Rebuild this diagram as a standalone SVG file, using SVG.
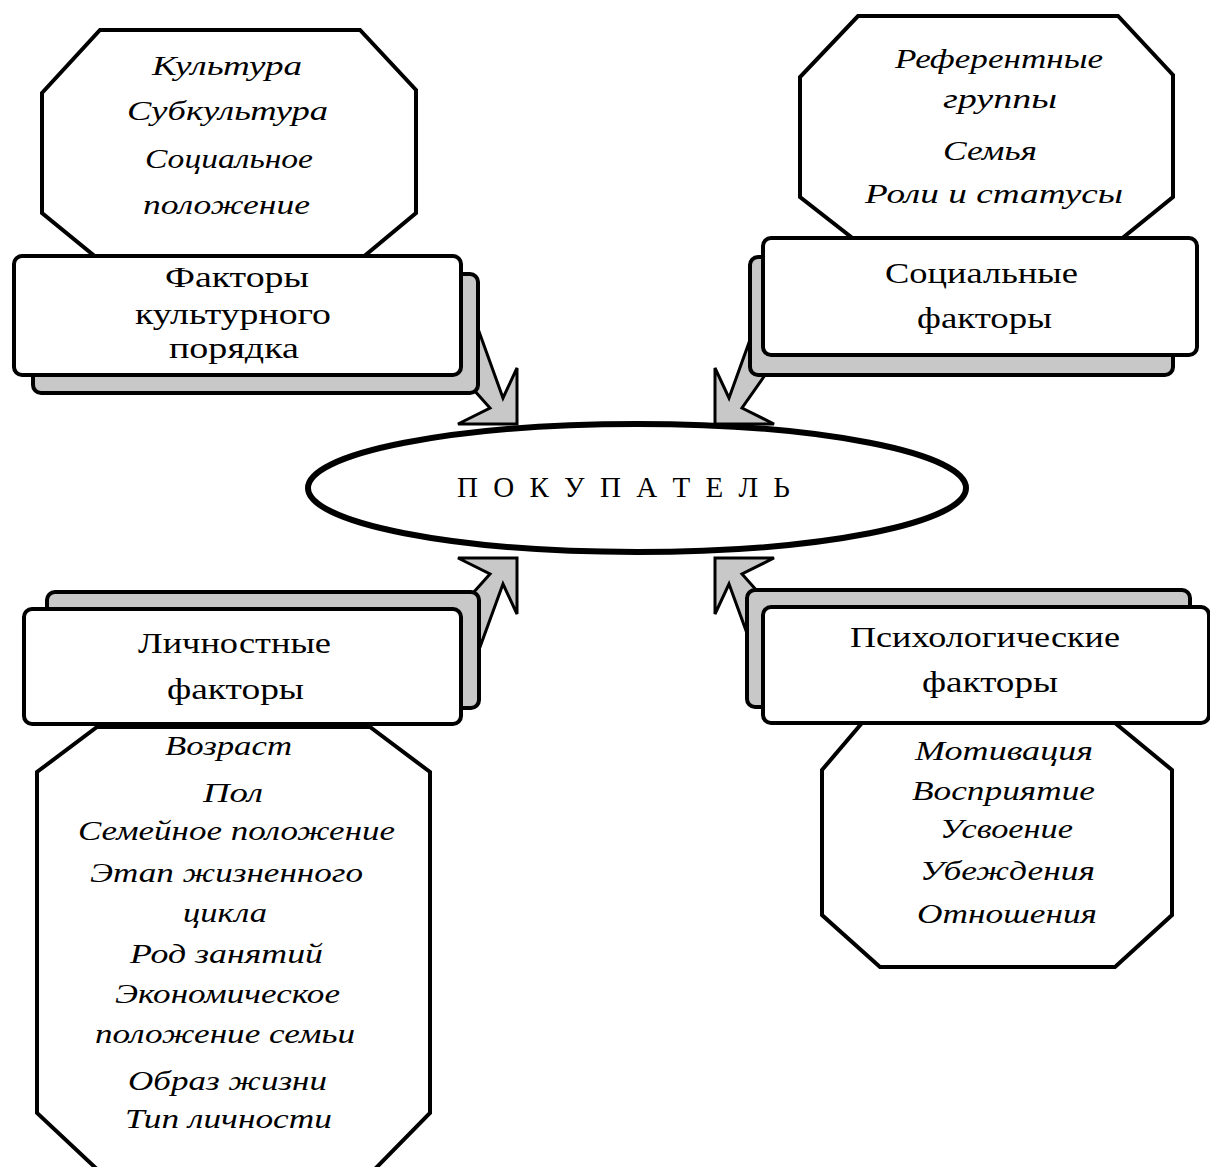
<svg xmlns="http://www.w3.org/2000/svg" width="1210" height="1167" viewBox="0 0 1210 1167">
<style>
.oct{fill:#fff;stroke:#000;stroke-width:4;stroke-linejoin:miter}
.front{fill:#fff;stroke:#000;stroke-width:4}
.shadow{fill:#c8c8c8;stroke:#000;stroke-width:4}
.arr{fill:#c8c8c8;stroke:#000;stroke-width:3;stroke-linejoin:miter}
.t{font-family:"Liberation Serif","DejaVu Serif",serif;font-size:30px;fill:#000}
.i{font-family:"Liberation Serif","DejaVu Serif",serif;font-style:italic;font-size:27px;fill:#000}
.c{font-family:"Liberation Serif","DejaVu Serif",serif;font-size:29px;fill:#000}
</style>
<rect width="1210" height="1167" fill="#fff"/>

<g id="culture-list">
<polygon class="oct" points="100,30 360,30 416,90 416,213 362,258 97,258 42,213 42,93"/>
<text class="i" x="152" y="75" textLength="150" lengthAdjust="spacingAndGlyphs">Культура</text>
<text class="i" x="127" y="120" textLength="201" lengthAdjust="spacingAndGlyphs">Субкультура</text>
<text class="i" x="145" y="168" textLength="168" lengthAdjust="spacingAndGlyphs">Социальное</text>
<text class="i" x="143" y="214" textLength="167" lengthAdjust="spacingAndGlyphs">положение</text>
</g>

<g id="social-list">
<polygon class="oct" points="858,16 1118,16 1173,75 1173,197 1120,240 855,240 800,197 800,77"/>
<text class="i" x="895" y="68" textLength="208" lengthAdjust="spacingAndGlyphs">Референтные</text>
<text class="i" x="943" y="108" textLength="114" lengthAdjust="spacingAndGlyphs">группы</text>
<text class="i" x="943" y="160" textLength="94" lengthAdjust="spacingAndGlyphs">Семья</text>
<text class="i" x="865" y="203" textLength="258" lengthAdjust="spacingAndGlyphs">Роли и статусы</text>
</g>

<g id="personal-list">
<polygon class="oct" points="97,727 370,727 430,772 430,1113 372,1172 100,1172 37,1113 37,772"/>
<text class="i" x="165" y="755" textLength="127" lengthAdjust="spacingAndGlyphs">Возраст</text>
<text class="i" x="203" y="802" textLength="60" lengthAdjust="spacingAndGlyphs">Пол</text>
<text class="i" x="78" y="840" textLength="317" lengthAdjust="spacingAndGlyphs">Семейное положение</text>
<text class="i" x="90" y="882" textLength="273" lengthAdjust="spacingAndGlyphs">Этап жизненного</text>
<text class="i" x="183" y="922" textLength="84" lengthAdjust="spacingAndGlyphs">цикла</text>
<text class="i" x="130" y="963" textLength="193" lengthAdjust="spacingAndGlyphs">Род занятий</text>
<text class="i" x="115" y="1003" textLength="225" lengthAdjust="spacingAndGlyphs">Экономическое</text>
<text class="i" x="95" y="1043" textLength="260" lengthAdjust="spacingAndGlyphs">положение семьи</text>
<text class="i" x="128" y="1090" textLength="199" lengthAdjust="spacingAndGlyphs">Образ жизни</text>
<text class="i" x="125" y="1128" textLength="207" lengthAdjust="spacingAndGlyphs">Тип личности</text>
</g>

<g id="psych-list">
<polygon class="oct" points="862,723 1115,723 1172,770 1172,915 1115,967 880,967 822,915 822,770"/>
<text class="i" x="915" y="760" textLength="178" lengthAdjust="spacingAndGlyphs">Мотивация</text>
<text class="i" x="912" y="800" textLength="183" lengthAdjust="spacingAndGlyphs">Восприятие</text>
<text class="i" x="940" y="838" textLength="133" lengthAdjust="spacingAndGlyphs">Усвоение</text>
<text class="i" x="920" y="880" textLength="175" lengthAdjust="spacingAndGlyphs">Убеждения</text>
<text class="i" x="917" y="923" textLength="180" lengthAdjust="spacingAndGlyphs">Отношения</text>
</g>

<g id="connectors">
<polygon class="arr" points="455,320 468,301 503,398 517,368 517,424 458,424 490,408 465,380"/>
<polygon class="arr" points="777,320 764,301 729,398 715,368 715,424 774,424 742,408 770,368"/>
<polygon class="arr" points="455,660 468,680 503,584 517,614 517,558 458,558 490,574 465,602"/>
<polygon class="arr" points="777,660 764,680 729,584 715,614 715,558 774,558 742,574 767,602"/>
</g>

<g id="culture">
<rect class="shadow" x="33" y="274" width="445" height="119" rx="8"/>
<rect class="front" x="14" y="256" width="447" height="119" rx="8"/>
<text class="t" x="165" y="287" textLength="144" lengthAdjust="spacingAndGlyphs">Факторы</text>
<text class="t" x="135" y="324" textLength="196" lengthAdjust="spacingAndGlyphs">культурного</text>
<text class="t" x="169" y="358" textLength="130" lengthAdjust="spacingAndGlyphs">порядка</text>
</g>

<g id="social">
<rect class="shadow" x="750" y="257" width="423" height="118" rx="8"/>
<rect class="front" x="763" y="238" width="434" height="117" rx="8"/>
<text class="t" x="885" y="283" textLength="193" lengthAdjust="spacingAndGlyphs">Социальные</text>
<text class="t" x="917" y="328" textLength="135" lengthAdjust="spacingAndGlyphs">факторы</text>
</g>

<g id="personal">
<rect class="shadow" x="47" y="592" width="432" height="116" rx="8"/>
<rect class="front" x="24" y="609" width="437" height="115" rx="8"/>
<text class="t" x="138" y="653" textLength="193" lengthAdjust="spacingAndGlyphs">Личностные</text>
<text class="t" x="167" y="699" textLength="137" lengthAdjust="spacingAndGlyphs">факторы</text>
</g>

<g id="psych">
<rect class="shadow" x="747" y="590" width="443" height="117" rx="8"/>
<rect class="front" x="763" y="607" width="446" height="116" rx="8"/>
<text class="t" x="850" y="647" textLength="270" lengthAdjust="spacingAndGlyphs">Психологические</text>
<text class="t" x="922" y="692" textLength="136" lengthAdjust="spacingAndGlyphs">факторы</text>
</g>

<g id="buyer">
<ellipse cx="637" cy="488" rx="329" ry="64" fill="#fff" stroke="#000" stroke-width="6"/>
<text class="c" x="457" y="497" textLength="333" lengthAdjust="spacing">П О К У П А Т Е Л Ь</text>
</g>
</svg>
